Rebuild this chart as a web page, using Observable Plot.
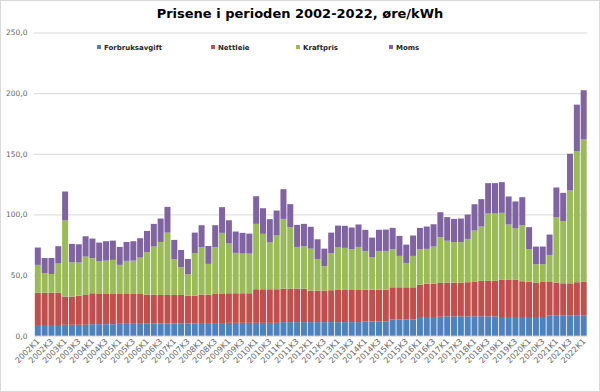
<!DOCTYPE html>
<html>
<head>
<meta charset="utf-8">
<script src="https://cdn.jsdelivr.net/npm/d3@7"></script>
<script src="https://cdn.jsdelivr.net/npm/@observablehq/plot@0.6"></script>
<style>
  html, body { margin: 0; padding: 0; background: #fff; }
  #wrap { position: relative; width: 600px; height: 392px; font-family: "DejaVu Sans", Verdana, sans-serif; }
  #frame { position: absolute; left: 0; top: 0; width: 598px; height: 390px; border: 1px solid #d9d9d9; pointer-events: none; }
  #title { position: absolute; left: 0; top: 6px; width: 600px; text-align: center; font-weight: bold; font-size: 13px; color: #000; }
  .lg { position: absolute; top: 44px; font-size: 7px; font-weight: bold; color: #262626; white-space: nowrap; }
  .lg i { display: inline-block; width: 4px; height: 4px; margin-right: 3px; vertical-align: 1px; }
</style>
</head>
<body>
<div id="wrap">
  <div id="chart"></div>
  <div id="title">Prisene i perioden 2002-2022, øre/kWh</div>
  <div id="legend"></div>
  <div id="frame"></div>
</div>
<script>
const quarters = [
  "2002K1","2002K2","2002K3","2002K4","2003K1","2003K2","2003K3","2003K4",
  "2004K1","2004K2","2004K3","2004K4","2005K1","2005K2","2005K3","2005K4",
  "2006K1","2006K2","2006K3","2006K4","2007K1","2007K2","2007K3","2007K4",
  "2008K1","2008K2","2008K3","2008K4","2009K1","2009K2","2009K3","2009K4",
  "2010K1","2010K2","2010K3","2010K4","2011K1","2011K2","2011K3","2011K4",
  "2012K1","2012K2","2012K3","2012K4","2013K1","2013K2","2013K3","2013K4",
  "2014K1","2014K2","2014K3","2014K4","2015K1","2015K2","2015K3","2015K4",
  "2016K1","2016K2","2016K3","2016K4","2017K1","2017K2","2017K3","2017K4",
  "2018K1","2018K2","2018K3","2018K4","2019K1","2019K2","2019K3","2019K4",
  "2020K1","2020K2","2020K3","2020K4","2021K1","2021K2","2021K3","2021K4",
  "2022K1"
];
const tickQuarters = [
  "2002K1","2002K3","2003K1","2003K3","2004K1","2004K3","2005K1","2005K3",
  "2006K1","2006K3","2007K1","2007K3","2008K1","2008K3","2009K1","2009K3",
  "2010K1","2010K3","2011K1","2011K3","2012K1","2012K3","2013K1","2013K3",
  "2014K1","2014K3","2015K1","2015K3","2016K1","2016K3","2017K1","2017K3",
  "2018K1","2018K3","2019K1","2019K3","2020K1","2020K3","2021K1","2021K3",
  "2022K1"
];
const seriesNames = ["Forbruksavgift", "Nettleie", "Kraftpris", "Moms"];
const seriesColors = ["#4F81BD", "#C0504D", "#9BBB59", "#8064A2"];

const forbruksavgift = [
  8.8,8.8,8.8,8.8, 9.0,9.0,9.0,9.0, 9.5,9.5,9.5,9.5, 9.8,9.8,9.8,9.8,
  10.0,10.0,10.0,10.0, 10.2,10.2,10.2,10.2, 10.4,10.4,10.4,10.4, 10.6,10.6,10.6,10.6,
  10.6,10.6,10.6,10.6, 11.2,11.2,11.2,11.2, 11.2,11.2,11.2,11.2, 11.2,11.2,11.2,11.2,
  11.8,11.8,11.8,11.8, 13.5,13.5,13.5,13.5, 15.4,15.4,15.4,15.6, 16.0,16.0,16.0,16.0,
  16.0,16.0,16.0,16.0, 15.4,15.4,15.4,15.4, 15.4,15.4,15.4,16.5, 16.5,16.5,16.5,16.5,
  16.5
];
const nettleie = [
  26.7,26.7,26.7,26.7, 23.2,23.2,24.0,24.6, 25.5,24.9,24.9,24.9, 24.6,24.6,24.6,24.6,
  23.9,23.9,23.6,23.6, 23.4,23.4,22.8,22.8, 23.5,23.5,24.0,24.0, 24.4,24.4,24.4,24.4,
  27.7,27.7,27.7,27.7, 27.6,27.6,27.6,27.6, 26.0,26.0,26.0,26.3, 26.5,26.5,26.5,26.5,
  26.2,26.2,26.2,26.2, 26.4,26.4,26.4,26.4, 26.7,27.5,27.5,27.9, 27.8,27.8,27.8,28.1,
  28.3,29.2,29.2,29.2, 30.6,30.6,30.6,29.5, 29.2,28.4,28.9,27.8, 27.3,26.7,26.7,27.6,
  28.1
];
const kraftpris = [
  22.9,16.0,15.4,24.0, 62.8,28.4,27.3,31.6, 28.9,27.0,27.5,28.1, 24.0,27.3,27.5,30.0,
  34.9,39.6,43.7,51.4, 29.4,22.8,17.6,35.0, 39.1,25.3,38.6,50.4, 41.0,33.3,32.7,32.7,
  53.9,45.7,38.5,44.3, 57.5,50.7,34.4,35.0, 34.6,26.1,20.1,30.5, 35.0,34.7,33.6,35.5,
  31.9,26.7,31.9,31.9, 31.4,25.9,20.1,25.9, 29.2,28.7,30.6,37.7, 34.5,33.4,33.3,35.7,
  42.4,44.8,55.5,55.5, 55.3,45.7,42.4,46.2, 26.7,15.1,14.6,22.3, 53.9,51.2,76.5,108.1,
  117.2
];
const moms = [
  14.3,12.6,13.2,14.3, 23.9,15.1,15.1,16.8, 16.2,15.4,16.0,15.9, 14.8,15.6,16.0,16.0,
  17.6,18.7,19.3,21.2, 16.0,14.3,12.7,17.0, 18.1,14.8,18.1,21.2, 19.2,17.6,17.1,16.5,
  22.8,21.1,19.3,20.6, 24.5,19.0,18.2,18.4, 18.0,16.2,14.5,17.0, 18.1,18.2,17.9,18.5,
  17.4,16.2,17.4,17.6, 17.6,16.5,15.1,16.8, 17.6,18.4,18.4,20.6, 19.5,19.1,19.5,20.1,
  21.7,22.6,25.1,25.1, 25.3,23.1,22.3,23.1, 18.2,14.6,14.6,16.8, 24.5,23.4,30.3,38.3,
  40.6
];
const yTicks = [0, 50, 100, 150, 200, 250];

const seriesValues = [forbruksavgift, nettleie, kraftpris, moms];
const table = [];
quarters.forEach((q, i) => {
  seriesNames.forEach((s, k) => table.push({ q, series: s, value: seriesValues[k][i] }));
});

const chart = Plot.plot({
  width: 600,
  height: 392,
  marginTop: 32.5,
  marginBottom: 56.3,
  marginLeft: 34,
  marginRight: 12.5,
  style: { fontFamily: "DejaVu Sans, Verdana, sans-serif", background: "transparent", overflow: "visible" },
  x: { domain: quarters, padding: 0.12, label: null },
  y: { domain: [0, 250], label: null },
  color: { domain: seriesNames, range: seriesColors },
  marks: [
    Plot.ruleY(yTicks, { stroke: "#d9d9d9", strokeWidth: 1 }),
    Plot.barY(table, { x: "q", y: "value", fill: "series", order: seriesNames }),
    Plot.axisY({ ticks: yTicks, tickSize: 0, tickPadding: 7, tickFormat: d => d.toFixed(1).replace(".", ","), fill: "#666", fontSize: 7.5, label: null }),
    Plot.axisX({ ticks: tickQuarters, tickSize: 0, tickPadding: 4, tickRotate: -45, fill: "#666", fontSize: 8, label: null })
  ]
});
document.getElementById("chart").appendChild(chart);

const legendX = [97, 211, 296, 389];
const legend = document.getElementById("legend");
seriesNames.forEach((s, k) => {
  const d = document.createElement("div");
  d.className = "lg";
  d.style.left = legendX[k] + "px";
  d.innerHTML = `<i style="background:${seriesColors[k]}"></i>${s}`;
  legend.appendChild(d);
});
</script>
</body>
</html>
